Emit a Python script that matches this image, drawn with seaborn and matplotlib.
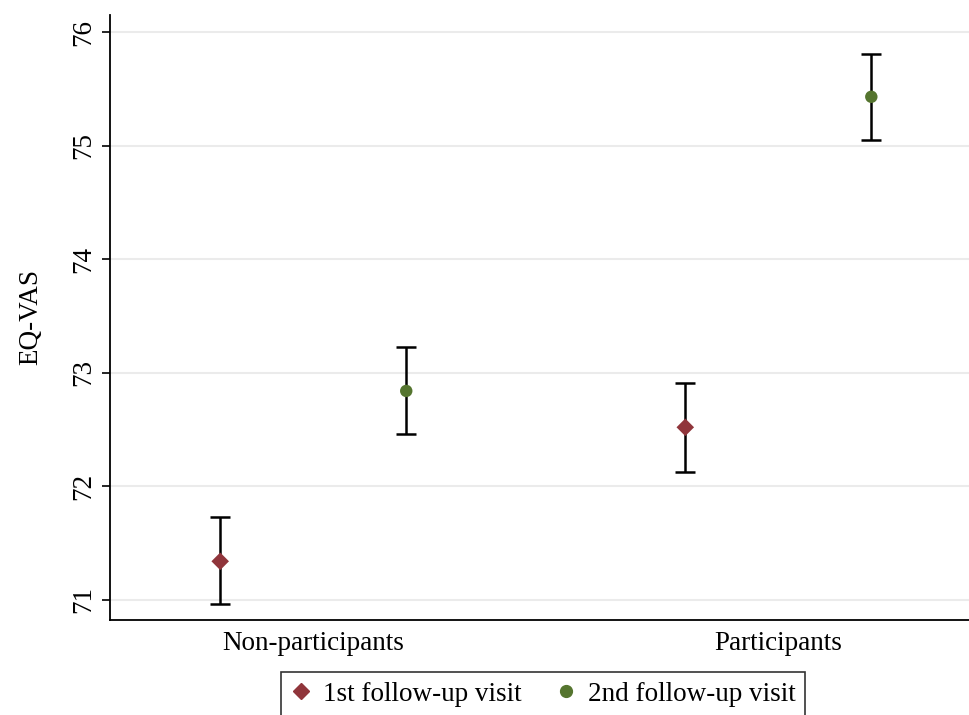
import pandas as pd
import matplotlib.pyplot as plt
import seaborn as sns

# Values
groups = ['Non-participants', 'Participants']
visits = ['1st follow-up visit', '2nd follow-up visit']
mean_1st = [71.34, 72.52]
lo_1st = [70.96, 72.13]
hi_1st = [71.73, 72.91]
mean_2nd = [72.84, 75.43]
lo_2nd = [72.46, 75.05]
hi_2nd = [73.23, 75.81]

rows = []
for i, g in enumerate(groups):
    rows.append({'group': g, 'gi': i, 'visit': visits[0], 'mean': mean_1st[i], 'lo': lo_1st[i], 'hi': hi_1st[i]})
    rows.append({'group': g, 'gi': i, 'visit': visits[1], 'mean': mean_2nd[i], 'lo': lo_2nd[i], 'hi': hi_2nd[i]})
df = pd.DataFrame(rows)
df['x'] = df['gi'] + df['visit'].map({visits[0]: -0.2, visits[1]: 0.2})

sns.set_style('white')
plt.rcParams['font.family'] = ['Liberation Serif', 'DejaVu Serif']
plt.rcParams['text.color'] = 'black'
plt.rcParams['axes.labelcolor'] = 'black'
plt.rcParams['xtick.color'] = 'black'
plt.rcParams['ytick.color'] = 'black'

fig = plt.figure(figsize=(9.69, 7.15), dpi=100)
ax = fig.add_axes([0.1135, 0.133, 0.886, 0.846])

# grid lines
for t in range(71, 77):
    ax.axhline(t, color='#ebebeb', lw=1.5, zorder=0)

# confidence intervals
ax.errorbar(df['x'], df['mean'],
            yerr=[df['mean'] - df['lo'], df['hi'] - df['mean']],
            fmt='none', ecolor='black', elinewidth=1.8, capsize=7, capthick=1.8, zorder=2)

palette = {visits[0]: '#90353b', visits[1]: '#55752f'}
markers = {visits[0]: 'D', visits[1]: 'o'}
sns.scatterplot(data=df, x='x', y='mean', hue='visit', style='visit',
                palette=palette, markers=markers, s=80, linewidth=0,
                ax=ax, zorder=3, legend=False)

fs = 19.5
ax.set_xlim(-0.437, 1.409)
ax.set_ylim(70.824, 76.15)
ax.set_xticks([0, 1])
ax.set_xticklabels(groups, fontsize=fs)
ax.set_yticks(range(71, 77))
ax.set_yticklabels([str(t) for t in range(71, 77)], fontsize=fs, rotation=90, va='center')
ax.tick_params(axis='y', length=6, width=1.2, color='black', left=True, pad=4)
ax.tick_params(axis='x', length=0, pad=8)
ax.set_xlabel('')
ax.set_ylabel('EQ-VAS', fontsize=fs, labelpad=20)

sns.despine(ax=ax)
for side in ['left', 'bottom']:
    ax.spines[side].set_color('black')
    ax.spines[side].set_linewidth(1.3)

# legend
handles = [plt.Line2D([], [], ls='none', marker=markers[v], color=palette[v],
                      markersize=8 if v == visits[0] else 8.5) for v in visits]
leg = fig.legend(handles, visits, loc='lower center', bbox_to_anchor=(0.56, -0.013),
                 ncol=2, fontsize=fs, frameon=True, fancybox=False,
                 edgecolor='black', handletextpad=0.4, columnspacing=1.25,
                 borderpad=0.35, handlelength=0.8, borderaxespad=0.3)
leg.get_frame().set_linewidth(1.2)

fig.savefig('out.png', dpi=100)
